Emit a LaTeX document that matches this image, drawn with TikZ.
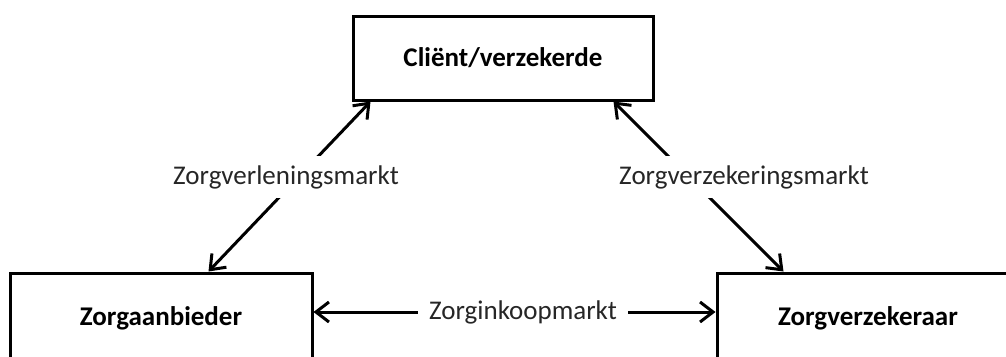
\documentclass[tikz,border=0pt]{standalone}
\usepackage{fontspec}
\setmainfont{Carlito}
\usetikzlibrary{arrows.meta}
\definecolor{labelgray}{HTML}{262626}
\tikzset{
  party/.style={draw=black, line width=3pt, fill=white, minimum width=300pt,
    minimum height=84pt, inner sep=0pt, font=\fontsize{27}{32}\selectfont\bfseries},
  market/.style={fill=white, text=labelgray, inner xsep=11pt, inner ysep=9pt,
    font=\fontsize{27}{32}\selectfont},
  link/.style={line width=3pt, >={Straight Barb[length=13pt,width=20pt]}, <->}
}
\begin{document}
\begin{tikzpicture}[x=1pt,y=-1pt]
  \useasboundingbox (0,0) rectangle (1006,356);
  \clip (0,0) rectangle (1006,356);
  % the three parties
  \node[party] (client) at (503,58) {Cliënt/verzekerde};
  \node[party, minimum width=302pt, minimum height=90pt] (provider) at (161,318) {Zorgaanbieder};
  \node[party, minimum width=302pt, minimum height=90pt] (insurer) at (868,318) {Zorgverzekeraar};
  % the three markets between them
  \draw[link] ([xshift=19pt]client.south west) -- ([xshift=200pt]provider.north west);
  \draw[link] ([xshift=-41pt]client.south east) -- ([xshift=68pt]insurer.north west);
  \draw[link] ([yshift=6pt]provider.east) -- ([yshift=6pt]insurer.west);
  \node[market] (care) at (286,177) {Zorgverleningsmarkt};
  \node[market] (insurance) at (744,177) {Zorgverzekeringsmarkt};
  \node[market] (purchase) at (523,312) {Zorginkoopmarkt};
\end{tikzpicture}
\end{document}
